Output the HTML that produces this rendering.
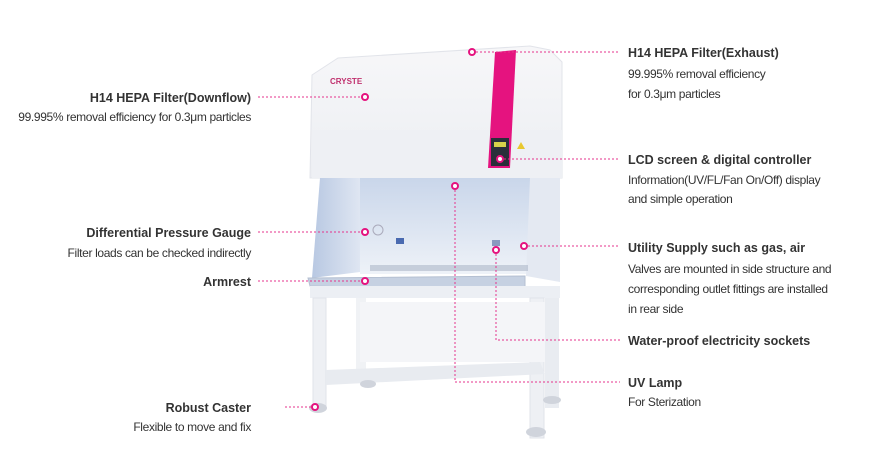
<!DOCTYPE html>
<html><head><meta charset="utf-8"><style>
body{margin:0;background:#fff;width:883px;height:472px;overflow:hidden}
svg{display:block}
.t{font-family:"Liberation Sans",sans-serif;font-size:12.5px;font-weight:bold;fill:#333}
.d{font-family:"Liberation Sans",sans-serif;font-size:12px;fill:#333;letter-spacing:-0.35px}
.l{stroke:#e5338c;stroke-width:1;stroke-dasharray:2 2;fill:none}
.dot{fill:#fff;stroke:#e5137f;stroke-width:2}
</style></head><body>
<svg width="883" height="472" viewBox="0 0 883 472">
<defs>
<linearGradient id="wall" x1="0" y1="0" x2="0" y2="1"><stop offset="0" stop-color="#c9d6ea"/><stop offset="1" stop-color="#eef2f8"/></linearGradient>
<linearGradient id="side" x1="0" y1="0" x2="1" y2="0"><stop offset="0" stop-color="#b8c8e2"/><stop offset="1" stop-color="#dfe6f2"/></linearGradient>
<linearGradient id="top" x1="0" y1="0" x2="0" y2="1"><stop offset="0" stop-color="#f7f7f9"/><stop offset="1" stop-color="#eceef2"/></linearGradient>
</defs>
<!-- cabinet -->
<path d="M338 58 L530 46 L550 50 L562 62 L562 178 L310 178 L312 75 Z" fill="url(#top)" stroke="#e2e4ea"/>
<rect x="312" y="130" width="250" height="48" fill="#eef0f4"/>
<path d="M495 52 L516 50 L510 168 L488 168 Z" fill="#e5137f"/>
<rect x="491" y="138" width="18" height="28" fill="#2a2f3a"/>
<rect x="494" y="142" width="12" height="5" fill="#d7d24a"/>
<polygon points="521,142 525,149 517,149" fill="#e8c830"/>
<text x="330" y="84" font-family="Liberation Sans,sans-serif" font-size="8" font-weight="bold" fill="#c0306e">CRYSTE</text>
<!-- work area -->
<rect x="360" y="178" width="170" height="96" fill="url(#wall)"/>
<path d="M320 178 L360 178 L360 272 L312 278 Z" fill="url(#side)"/>
<path d="M530 178 L560 178 L560 282 L526 276 Z" fill="#e4e9f2"/>
<rect x="370" y="265" width="158" height="6" fill="#aeb8c8" opacity=".6"/>
<path d="M308 278 L525 276 L525 290 L310 286 Z" fill="#c6d1e2" stroke="#b5c0d2"/>
<rect x="310" y="286" width="250" height="12" fill="#eceff4"/>
<circle cx="378" cy="230" r="5" fill="none" stroke="#aab" />
<rect x="396" y="238" width="8" height="6" fill="#4a6ab0"/>
<rect x="492" y="240" width="8" height="6" fill="#8a9ac0"/>
<!-- stand -->
<rect x="313" y="298" width="13" height="108" fill="#eef0f4" stroke="#e0e3ea"/>
<rect x="356" y="298" width="10" height="78" fill="#f0f2f5"/>
<rect x="530" y="298" width="14" height="140" fill="#eef0f4" stroke="#e0e3ea"/>
<rect x="545" y="298" width="14" height="110" fill="#e9ecf1"/>
<rect x="360" y="302" width="185" height="60" fill="#f4f5f8"/>
<path d="M326 370 L540 362 L545 374 L326 385 Z" fill="#e8ebf0"/>
<ellipse cx="318" cy="408" rx="9" ry="5" fill="#d0d4dc"/>
<ellipse cx="368" cy="384" rx="8" ry="4" fill="#d0d4dc"/>
<ellipse cx="536" cy="432" rx="10" ry="5" fill="#d0d4dc"/>
<ellipse cx="552" cy="400" rx="9" ry="4" fill="#d0d4dc"/>
<!-- connectors -->
<path class="l" d="M472 52 H618"/>
<path class="l" d="M500 159 H620"/>
<path class="l" d="M524 246 H620"/>
<path class="l" d="M496 250 V340 H620"/>
<path class="l" d="M455 186 V382 H620"/>
<path class="l" d="M258 97 H365"/>
<path class="l" d="M258 232 H365"/>
<path class="l" d="M258 281 H365"/>
<path class="l" d="M285 407 H315"/>
<circle class="dot" cx="472" cy="52" r="3"/>
<circle class="dot" cx="365" cy="97" r="3"/>
<circle class="dot" cx="500" cy="159" r="3"/>
<circle class="dot" cx="455" cy="186" r="3"/>
<circle class="dot" cx="365" cy="232" r="3"/>
<circle class="dot" cx="524" cy="246" r="3"/>
<circle class="dot" cx="496" cy="250" r="3"/>
<circle class="dot" cx="365" cy="281" r="3"/>
<circle class="dot" cx="315" cy="407" r="3"/>
<!-- right labels -->
<text class="t" x="628" y="57">H14 HEPA Filter(Exhaust)</text>
<text class="d" x="628" y="78">99.995% removal efficiency</text>
<text class="d" x="628" y="98">for 0.3μm particles</text>
<text class="t" x="628" y="164">LCD screen &amp; digital controller</text>
<text class="d" x="628" y="184">Information(UV/FL/Fan On/Off) display</text>
<text class="d" x="628" y="203">and simple operation</text>
<text class="t" x="628" y="252">Utility Supply such as gas, air</text>
<text class="d" x="628" y="273">Valves are mounted in side structure and</text>
<text class="d" x="628" y="293">corresponding outlet fittings are installed</text>
<text class="d" x="628" y="313">in rear side</text>
<text class="t" x="628" y="345">Water-proof electricity sockets</text>
<text class="t" x="628" y="387">UV Lamp</text>
<text class="d" x="628" y="406">For Sterization</text>
<!-- left labels -->
<g text-anchor="end">
<text class="t" x="251" y="102">H14 HEPA Filter(Downflow)</text>
<text class="d" x="251" y="121">99.995% removal efficiency for 0.3μm particles</text>
<text class="t" x="251" y="237">Differential Pressure Gauge</text>
<text class="d" x="251" y="257">Filter loads can be checked indirectly</text>
<text class="t" x="251" y="286">Armrest</text>
<text class="t" x="251" y="412">Robust Caster</text>
<text class="d" x="251" y="431">Flexible to move and fix</text>
</g>
</svg>
</body></html>
